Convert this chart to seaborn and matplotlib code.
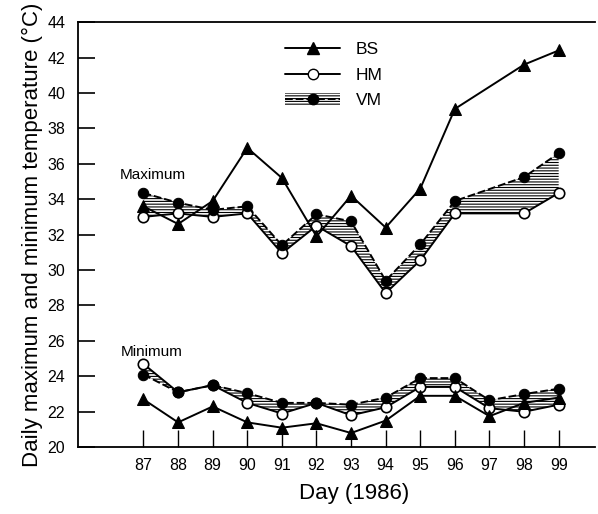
import numpy as np
import pandas as pd
import matplotlib
matplotlib.use("Agg")
import matplotlib.pyplot as plt
import seaborn as sns
from matplotlib.lines import Line2D
from matplotlib.patches import Patch

sns.set_theme(style="ticks")
plt.rcParams['font.family'] = ['Liberation Sans', 'DejaVu Sans']
plt.rcParams['hatch.linewidth'] = 0.8
plt.rcParams['xtick.color'] = 'black'
plt.rcParams['ytick.color'] = 'black'
plt.rcParams['xtick.labelcolor'] = 'black'
plt.rcParams['ytick.labelcolor'] = 'black'
plt.rcParams['axes.labelcolor'] = 'black'
plt.rcParams['text.color'] = 'black'

# Data
days_max = [87, 88, 89, 90, 91, 92, 93, 94, 95, 96, 98, 99]
bs_max = [33.6, 32.6, 33.9, 36.9, 35.2, 31.9, 34.2, 32.4, 34.6, 39.1, 41.6, 42.4]
hm_max = [33.0, 33.2, 33.0, 33.2, 30.95, 32.5, 31.35, 28.7, 30.55, 33.2, 33.2, 34.35]
vm_max = [34.35, 33.8, 33.4, 33.6, 31.4, 33.15, 32.75, 29.4, 31.45, 33.9, 35.25, 36.6]

days_min = [87, 88, 89, 90, 91, 92, 93, 94, 95, 96, 97, 98, 99]
bs_min = [22.7, 21.4, 22.3, 21.4, 21.1, 21.35, 20.8, 21.5, 22.9, 22.9, 21.75, 22.5, 22.8]
hm_min = [24.7, 23.1, 23.5, 22.5, 21.9, 22.5, 21.8, 22.25, 23.4, 23.4, 22.2, 22.0, 22.4]
vm_min = [24.1, 23.1, 23.5, 23.05, 22.5, 22.5, 22.4, 22.8, 23.9, 23.9, 22.65, 23.0, 23.3]

ticks_x = list(range(87, 100))
ticks_y = list(range(20, 45, 2))

fig = plt.figure(figsize=(5.98, 5.14), dpi=100)
ax = fig.add_axes([0.130, 0.130, 0.865, 0.827])

lw = 1.4
for days, bs, hm, vm in [(days_max, bs_max, hm_max, vm_max),
                         (days_min, bs_min, hm_min, vm_min)]:
    ax.fill_between(days, hm, vm, facecolor='none', edgecolor='black',
                    hatch='------', linewidth=0, zorder=1)
    sns.lineplot(x=days, y=hm, ax=ax, color='black', lw=lw, marker='o',
                 markersize=7.5, markerfacecolor='white', markeredgecolor='black',
                 markeredgewidth=1.2, zorder=3, sort=False)
    sns.lineplot(x=days, y=vm, ax=ax, color='black', lw=lw, linestyle=(0, (4, 1.5)),
                 marker='o', markersize=7.5, markerfacecolor='black',
                 markeredgecolor='black', zorder=4, sort=False)
    sns.lineplot(x=days, y=bs, ax=ax, color='black', lw=lw, marker='^',
                 markersize=8, markerfacecolor='black', markeredgecolor='black',
                 zorder=5, sort=False)

ax.set_xlim(85.1, 100.05)
ax.set_ylim(20, 44)
ax.set_xticks(ticks_x)
ax.set_xticklabels([str(t) for t in ticks_x])
ax.set_yticks(ticks_y)
ax.set_yticklabels([str(t) for t in ticks_y])
ax.tick_params(axis='y', direction='in', length=12, width=1.2, pad=9, labelsize=11.5)
ax.tick_params(axis='x', direction='in', length=12, width=1.0, pad=8, labelsize=11.5)
ax.tick_params(axis='y', right=False)
ax.spines['right'].set_visible(False)
for s in ['left', 'bottom', 'top']:
    ax.spines[s].set_linewidth(1.3)
    ax.spines[s].set_color('black')

ax.set_xlabel('Day (1986)', fontsize=16, labelpad=6)
ax.xaxis.set_label_coords(0.535, -0.085)
ax.set_ylabel('Daily maximum and minimum temperature (\u00b0C)', fontsize=16, labelpad=3)

ax.text(86.3, 35.35, 'Maximum', fontsize=11, ha='left', va='center')
ax.text(86.35, 25.35, 'Minimum', fontsize=11, ha='left', va='center')

h_bs = Line2D([], [], color='black', lw=lw, marker='^', markersize=8)
h_hm = Line2D([], [], color='black', lw=lw, marker='o', markersize=7.5,
              markerfacecolor='white', markeredgecolor='black')
h_fill = Patch(facecolor='none', edgecolor='black', hatch='------', linewidth=0)
h_vm = Line2D([], [], color='black', lw=lw, linestyle=(0, (4, 1.5)), marker='o',
              markersize=7.5, markerfacecolor='black')
leg = ax.legend([h_bs, h_hm, (h_fill, h_vm)], ['BS', 'HM', 'VM'],
                loc='upper left', bbox_to_anchor=(0.37, 0.99), frameon=False,
                fontsize=12.5, handlelength=3.2, labelspacing=0.6,
                handletextpad=0.9)

fig.savefig('out.png', dpi=100)
